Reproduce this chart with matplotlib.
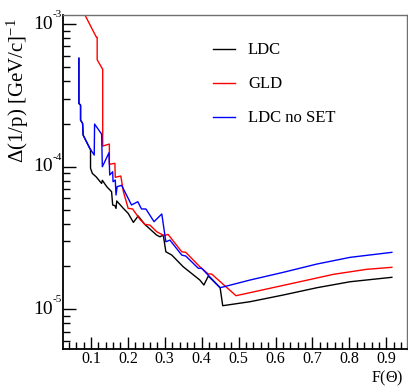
import matplotlib
matplotlib.use('Agg')
import matplotlib.pyplot as plt
import numpy as np
from matplotlib.ticker import FixedLocator, MultipleLocator, LogLocator, NullFormatter

plt.rcParams['font.family'] = 'Liberation Serif'
plt.rcParams['mathtext.fontset'] = 'custom'
plt.rcParams['mathtext.rm'] = 'Liberation Serif'
plt.rcParams['mathtext.it'] = 'Liberation Serif:italic'

# curves: F(Theta) and log10 of Delta(1/p)
ldc_x = [0.0675, 0.0675, 0.072, 0.072, 0.0775, 0.079, 0.097, 0.099, 0.099, 0.104,
         0.114, 0.129, 0.131, 0.143, 0.156, 0.159, 0.165, 0.168, 0.170, 0.188,
         0.201, 0.215, 0.228, 0.246, 0.278, 0.287, 0.296, 0.303, 0.319, 0.350,
         0.395, 0.406, 0.418, 0.450, 0.457, 0.531, 0.621, 0.712, 0.802, 0.915]
ldc_log = [-3.240, -3.556, -3.568, -3.673, -3.696, -3.778, -3.871, -3.880, -4.011, -4.047,
           -4.070, -4.117, -4.095, -4.140, -4.175, -4.268, -4.273, -4.292, -4.240, -4.292,
           -4.327, -4.390, -4.345, -4.404, -4.479, -4.491, -4.479, -4.596, -4.619, -4.701,
           -4.794, -4.829, -4.766, -4.848, -4.974, -4.946, -4.899, -4.848, -4.806, -4.775]

gld_x = [0.075, 0.084, 0.115, 0.117, 0.117, 0.120, 0.132, 0.132, 0.150, 0.150,
         0.165, 0.166, 0.181, 0.188, 0.201, 0.213, 0.233, 0.246, 0.260, 0.278,
         0.298, 0.309, 0.346, 0.357, 0.395, 0.418, 0.427, 0.493, 0.576, 0.666,
         0.757, 0.847, 0.915]
gld_log = [-2.890, -2.937, -3.093, -3.093, -3.250, -3.264, -3.317, -3.855, -3.841, -3.983,
           -3.976, -4.074, -4.065, -4.175, -4.292, -4.296, -4.369, -4.404, -4.409, -4.455,
           -4.483, -4.474, -4.596, -4.600, -4.701, -4.752, -4.752, -4.904, -4.857, -4.806,
           -4.754, -4.719, -4.705]

noset_x = [0.0675, 0.0675, 0.072, 0.072, 0.0775, 0.079, 0.097, 0.109, 0.110, 0.129,
           0.131, 0.149, 0.151, 0.159, 0.160, 0.166, 0.168, 0.171, 0.183, 0.210,
           0.227, 0.237, 0.249, 0.271, 0.292, 0.303, 0.314, 0.346, 0.357, 0.391,
           0.400, 0.450, 0.531, 0.621, 0.712, 0.802, 0.915]
noset_log = [-3.240, -3.556, -3.568, -3.673, -3.696, -3.778, -3.871, -3.918, -3.701, -3.771,
             -4.000, -3.902, -4.058, -4.035, -4.105, -4.093, -4.198, -4.140, -4.130, -4.268,
             -4.245, -4.296, -4.296, -4.385, -4.331, -4.526, -4.514, -4.619, -4.626, -4.712,
             -4.712, -4.848, -4.794, -4.740, -4.682, -4.635, -4.600]

labels = ['LDC', 'GLD', 'LDC no SET']
colors = ['black', '#ff0000', '#0000ff']
x_ticks = [0.1, 0.2, 0.3, 0.4, 0.5, 0.6, 0.7, 0.8, 0.9]
y_ticks = [1e-5, 1e-4, 1e-3]
y_exponents = ['-5', '-4', '-3']

fig = plt.figure(figsize=(4.08, 3.87), dpi=100)
ax = fig.add_axes([0.154, 0.098, 0.8435, 0.863])

for xs, ls, lab, c in zip([ldc_x, gld_x, noset_x], [ldc_log, gld_log, noset_log], labels, colors):
    ax.plot(xs, np.power(10.0, ls), color=c, lw=1.0, label=lab)

ax.set_yscale('log')
ax.set_xlim(0.024, 0.956)
ax.set_ylim(10 ** -5.278, 10 ** -2.937)

ax.xaxis.set_major_locator(FixedLocator(x_ticks))
ax.set_xticklabels([f'{v:.1f}' for v in x_ticks])
ax.xaxis.set_minor_locator(MultipleLocator(0.02))
ax.yaxis.set_major_locator(FixedLocator(y_ticks))
ax.set_yticklabels(['' for _ in y_ticks])
ax.yaxis.set_minor_locator(LogLocator(base=10, subs=np.arange(2, 10)))
ax.yaxis.set_minor_formatter(NullFormatter())

# ROOT-style "10" with small exponent up at the right
for v, e in zip(y_ticks, y_exponents):
    ax.annotate('10', xy=(0, v), xycoords=('axes fraction', 'data'),
                xytext=(-7, 0), textcoords='offset points', ha='right', va='center', fontsize=14)
    ax.annotate(e, xy=(0, v), xycoords=('axes fraction', 'data'),
                xytext=(-0.5, 7), textcoords='offset points', ha='right', va='center', fontsize=8)

ax.tick_params(which='both', direction='in', top=False, right=False)
ax.tick_params(axis='x', labelsize=11.5, pad=1.5)
ax.tick_params(which='major', length=9, width=1)
ax.tick_params(which='minor', length=5, width=1)

for s in ['left', 'bottom']:
    ax.spines[s].set_linewidth(1.3)
for s in ['top', 'right']:
    ax.spines[s].set_color('#707070')
    ax.spines[s].set_linewidth(1.0)

fig.text(403 / 408, 1 - 378 / 387, r'F($\Theta$)', fontsize=11.5, ha='right', va='center')
fig.text(18 / 408, 1 - 18 / 387, r'$\mathit{\Delta}$(1/p) [GeV/c]$^{-1}$', fontsize=15,
         rotation=90, ha='center', va='top')

ax.legend(loc='upper left', bbox_to_anchor=(0.436, 0.918), frameon=False, fontsize=12,
          borderpad=0, borderaxespad=0, handlelength=1.3, handletextpad=0.8, labelspacing=1.08)

plt.savefig('out.png', dpi=100)
plt.close()
